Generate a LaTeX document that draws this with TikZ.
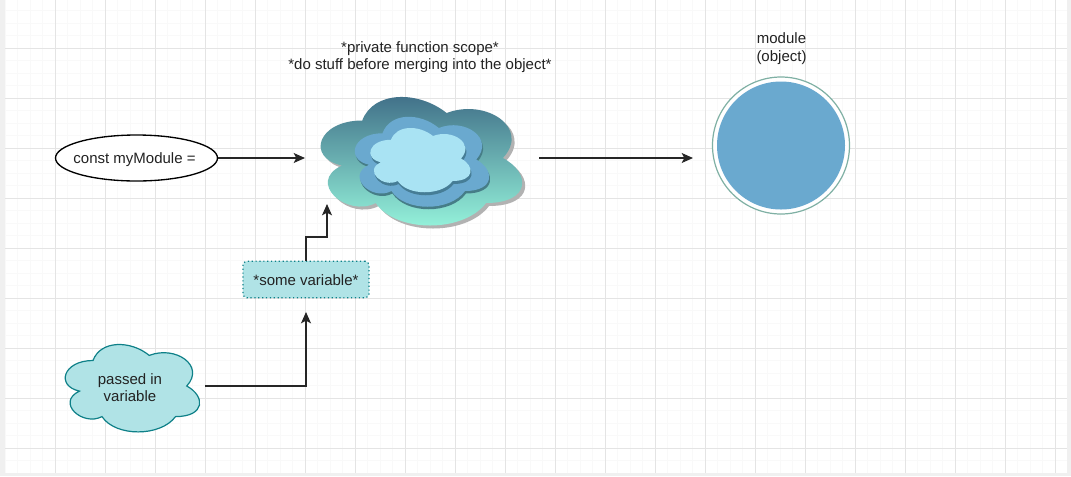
\documentclass[tikz,border=0pt]{standalone}
\usepackage{fontspec}
\setmainfont{Liberation Sans}
\usetikzlibrary{arrows.meta}
\definecolor{gridmajor}{HTML}{E4E4E4}
\definecolor{gridminor}{HTML}{F9F9F9}
\definecolor{edgegray}{HTML}{F0F0F0}
\definecolor{tealfill}{HTML}{B0E3E6}
\definecolor{tealline}{HTML}{0E8088}
\definecolor{bluefill}{HTML}{6AA9CF}
\definecolor{paleblue}{HTML}{A9E3F3}
\definecolor{ringline}{HTML}{7FB0A4}
\definecolor{txt}{HTML}{222222}
\definecolor{cloudtop}{RGB}{62,108,134}
\definecolor{cloudbot}{RGB}{152,248,222}
\definecolor{midshadow}{RGB}{70,125,135}
\definecolor{innershadow}{RGB}{70,125,150}
\tikzset{
  cloudat/.style n args={4}{insert path={
    (#1+.25*#3,#2+.25*#4)
    .. controls (#1+.05*#3,#2+.25*#4) and (#1,#2+.5*#4) .. (#1+.16*#3,#2+.55*#4)
    .. controls (#1,#2+.66*#4) and (#1+.18*#3,#2+.9*#4) .. (#1+.31*#3,#2+.8*#4)
    .. controls (#1+.4*#3,#2+#4) and (#1+.7*#3,#2+#4) .. (#1+.8*#3,#2+.8*#4)
    .. controls (#1+#3,#2+.8*#4) and (#1+#3,#2+.6*#4) .. (#1+.875*#3,#2+.5*#4)
    .. controls (#1+#3,#2+.3*#4) and (#1+.8*#3,#2+.1*#4) .. (#1+.625*#3,#2+.2*#4)
    .. controls (#1+.5*#3,#2+.05*#4) and (#1+.3*#3,#2+.05*#4) .. (#1+.25*#3,#2+.25*#4)
    -- cycle}},
  label text/.style={font=\fontsize{11.25pt}{13.1pt}\selectfont, text=txt, align=center, inner sep=0pt},
  link/.style={draw=black!85, line width=1pt, -{Stealth[length=8.5pt,width=7.5pt,inset=2pt]}}
}
\begin{document}
\begin{tikzpicture}[x=.75pt,y=-.75pt]
\useasboundingbox (0,0) rectangle (1071,476);
\fill[white] (0,0) rectangle (1071,476);
% grid
\foreach \k in {0,...,85}
  \draw[gridminor,line width=.6pt] ({5+12.5*\k},0) -- ({5+12.5*\k},473);
\foreach \k in {0,...,37}
  \draw[gridminor,line width=.6pt] (5,{10.5+12.5*\k}) -- (1067,{10.5+12.5*\k});
\foreach \k in {1,...,21}
  \draw[gridmajor,line width=.75pt] ({5+50*\k},0) -- ({5+50*\k},473);
\foreach \k in {1,...,9}
  \draw[gridmajor,line width=.75pt] (5,{-2+50*\k}) -- (1067,{-2+50*\k});
\fill[edgegray] (0,0) rectangle (5,476);
\fill[edgegray] (1067,0) rectangle (1071,476);
\fill[edgegray] (0,473) rectangle (1071,476);
% main cloud
\fill[black!30,cloudat={309}{86}{225}{150}];
\shade[top color=cloudtop,bottom color=cloudbot,cloudat={306}{83}{225}{150}];
\fill[midshadow,cloudat={346}{109.5}{150}{105}];
\fill[bluefill,cloudat={345}{107}{150}{105}];
\fill[innershadow,cloudat={364}{124}{112}{75}];
\fill[paleblue,cloudat={363}{121}{112}{75}];
% passed-in cloud
\draw[fill=tealfill,draw=tealline,line width=.9pt,cloudat={55.5}{335}{150}{102}];
\node[label text] (passed) at (130,387.5) {passed in\\variable};
% ellipse
\draw[black,line width=1pt,fill=white] (136.5,158) ellipse [x radius=81,y radius=23];
\node[label text] (const) at (134.5,160) {const myModule =};
\coordinate (constend) at (218,158);
\coordinate (cloudin) at (305,158);
\coordinate (cloudout) at (539,158);
\coordinate (modin) at (693,158);
\coordinate (varbottomtip) at (306,312);
\coordinate (passedout) at (205,386);
\coordinate (cloudlow) at (327,204);
% some variable
\node[draw=tealline,dash pattern=on .9pt off 2pt,line width=.9pt,fill=tealfill,rounded corners=3pt,minimum width=94.5pt,minimum height=27.5pt,label text,text height=12pt,text depth=2.6pt] (somevar) at (306,279.5) {*some variable*};
% module
\fill[white] (781,145.5) circle [radius=68.5];
\draw[ringline,line width=.9pt] (781,145.5) circle [radius=68.5];
\fill[bluefill] (781,145.5) circle [radius=64];
\node[label text] (modtext) at (781.5,48.5) {module\\(object)};
\node[label text] (scope) at (420,57) {*private function scope*\\*do stuff before merging into the object*};
% connectors
\draw[link] (constend) -- (cloudin);
\draw[link] (cloudout) -- (modin);
\draw[link] (passedout) -| (varbottomtip);
\draw[link] (somevar.north) |- (317,237) -| (cloudlow);
\end{tikzpicture}
\end{document}
